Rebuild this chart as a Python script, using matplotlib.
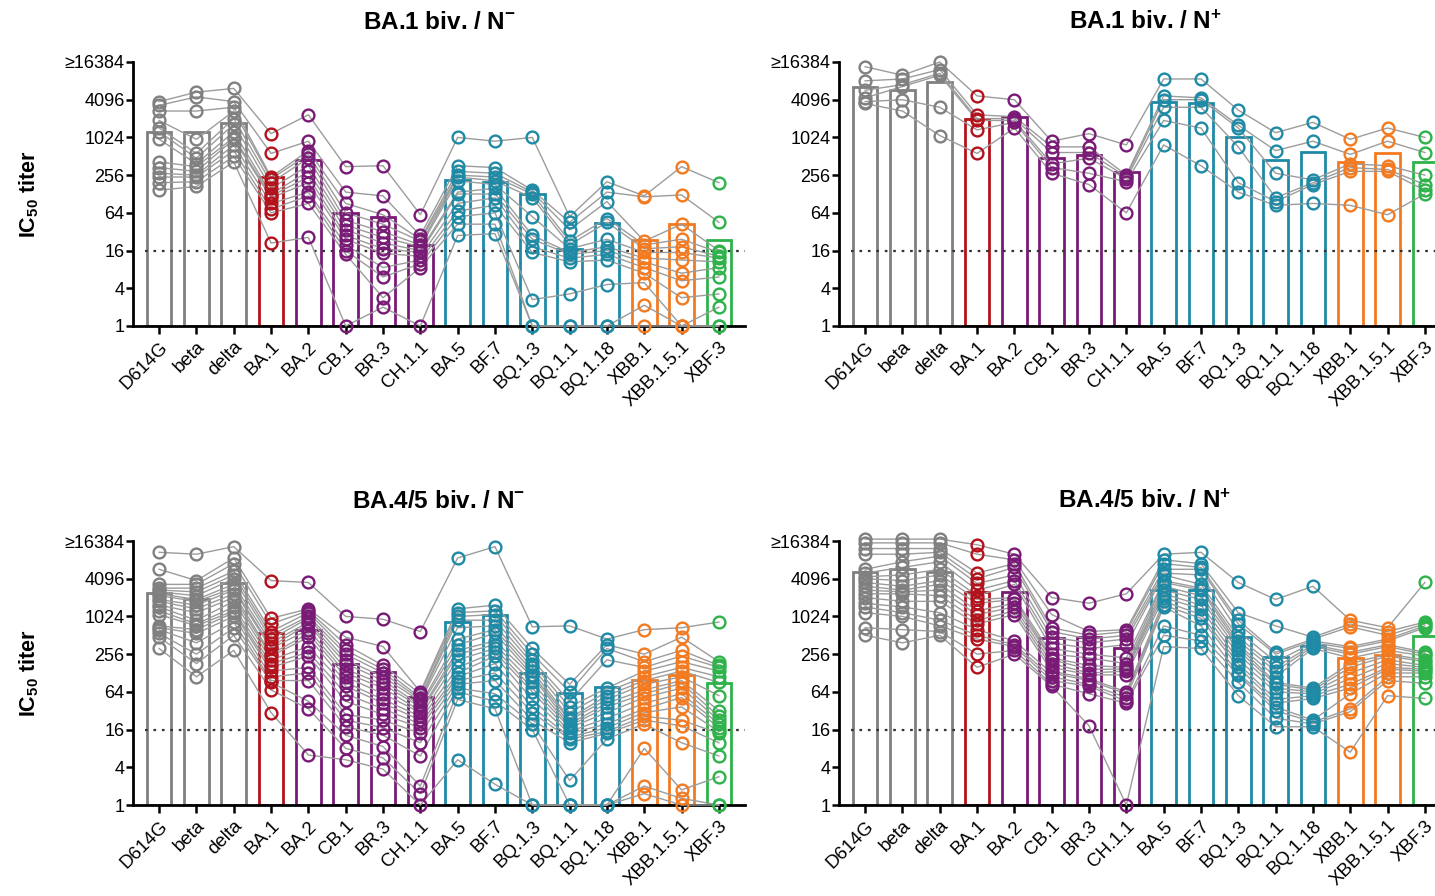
import numpy as np
import matplotlib
matplotlib.use("Agg")
import matplotlib.pyplot as plt

plt.rcParams['font.family'] = ['Liberation Sans', 'DejaVu Sans']
plt.rcParams['mathtext.default'] = 'regular'

variants = ["D614G", "beta", "delta", "BA.1", "BA.2", "CB.1", "BR.3", "CH.1.1",
            "BA.5", "BF.7", "BQ.1.3", "BQ.1.1", "BQ.1.18", "XBB.1", "XBB.1.5.1", "XBF.3"]

GRAY, RED, PURPLE, TEAL, ORANGE, GREEN = "#808080", "#b3121c", "#7a1a77", "#1f8aa6", "#f47a20", "#2db34a"
variant_colors = [GRAY] * 3 + [RED] + [PURPLE] * 4 + [TEAL] * 5 + [ORANGE] * 2 + [GREEN]

# all titers given as log2(IC50), one list per variant, subjects in rank order
# BA.1 biv. / N-
ba1_neg_bars = [10.3, 10.3, 10.78, 7.9, 8.8, 5.97, 5.8, 4.29, 7.74, 7.65, 7.0, 4.1, 5.48, 4.56, 5.4, 4.56]
ba1_neg_points = [
    [11.9, 11.7, 11.4, 10.9, 10.5, 10.3, 9.9, 8.7, 8.4, 8.1, 7.9, 7.6, 7.2],
    [12.4, 12.15, 11.4, 9.9, 9.15, 8.9, 8.6, 8.45, 8.2, 8.0, 7.9, 7.65, 7.4],
    [12.6, 11.9, 11.6, 11.4, 11.0, 10.7, 10.3, 10.0, 9.9, 9.6, 9.3, 9.0, 8.7],
    [10.2, 9.15, 7.9, 7.8, 7.6, 7.3, 7.0, 6.9, 6.8, 6.5, 6.2, 6.0, 4.4],
    [11.2, 9.8, 9.3, 9.1, 8.9, 8.5, 8.2, 7.9, 7.6, 7.1, 6.9, 6.5, 4.7],
    [8.45, 7.1, 6.5, 6.0, 5.6, 5.35, 5.1, 4.8, 4.6, 4.3, 4.0, 3.8, 0],
    [8.5, 6.9, 5.9, 5.4, 5.0, 4.7, 4.4, 4.1, 3.85, 3.1, 2.6, 1.5, 1.0],
    [5.9, 4.8, 4.6, 4.5, 4.3, 4.2, 4.0, 3.9, 3.7, 3.5, 3.3, 3.1, 0],
    [10.0, 8.5, 8.2, 8.0, 7.9, 7.7, 7.1, 7.0, 6.5, 6.1, 5.8, 5.4, 4.8],
    [9.8, 8.4, 8.1, 7.9, 7.7, 7.5, 7.3, 7.0, 6.8, 6.4, 6.0, 5.4, 4.9],
    [10.0, 7.2, 7.1, 7.0, 6.8, 5.8, 4.8, 4.6, 4.2, 3.9, 1.4, 0, 0],
    [5.8, 5.5, 5.1, 4.5, 4.3, 4.1, 3.9, 3.8, 3.6, 3.4, 1.7, 0, 0],
    [7.65, 7.1, 6.6, 5.7, 5.5, 4.6, 4.2, 4.0, 3.8, 3.5, 2.2, 0, 0],
    [6.9, 6.85, 4.5, 4.3, 4.1, 3.9, 3.6, 3.4, 3.1, 2.8, 2.3, 1.1, 0],
    [8.45, 6.95, 5.4, 4.6, 4.2, 3.9, 3.5, 2.8, 2.4, 1.5, 0, 0, 0],
    [7.6, 5.5, 4.0, 3.9, 3.7, 3.6, 3.4, 3.1, 2.6, 1.7, 1.0, 0, 0],
]

# BA.1 biv. / N+
ba1_pos_bars = [12.69, 12.5, 12.95, 11.0, 11.1, 8.89, 9.06, 8.18, 11.89, 11.8, 10.0, 8.8, 9.24, 8.7, 9.15, 8.7]
ba1_pos_points = [
    [13.75, 13.0, 12.5, 12.1, 11.9, 11.8],
    [13.3, 13.1, 12.8, 12.7, 12.0, 11.4],
    [14.0, 13.6, 13.4, 13.3, 11.6, 10.1],
    [12.2, 11.2, 11.0, 10.9, 10.4, 9.15],
    [12.0, 11.1, 11.0, 10.9, 10.8, 10.5],
    [9.8, 9.5, 9.2, 8.6, 8.4, 8.1],
    [10.2, 9.5, 9.2, 8.9, 8.1, 7.5],
    [9.6, 8.0, 7.9, 7.8, 7.65, 6.0],
    [13.1, 12.2, 12.0, 11.6, 10.9, 9.6],
    [13.1, 12.1, 12.0, 11.6, 10.5, 8.5],
    [11.45, 10.65, 10.5, 9.5, 7.6, 7.1],
    [10.25, 9.3, 8.1, 6.8, 6.6, 6.4],
    [10.8, 9.8, 7.75, 7.6, 7.5, 6.5],
    [9.9, 9.1, 8.6, 8.4, 8.2, 6.4],
    [10.5, 9.8, 8.5, 8.3, 8.2, 5.9],
    [10.0, 9.2, 8.0, 7.5, 7.2, 7.0],
]

# BA.4/5 biv. / N-
ba45_neg_bars = [11.22, 10.95, 11.75, 9.1, 9.28, 7.5, 7.07, 5.74, 9.72, 10.1, 6.98, 5.92, 6.27, 6.63, 6.89, 6.48]
ba45_neg_points = [
    [13.4, 12.5, 11.7, 11.5, 11.4, 11.3, 11.2, 11.1, 10.9, 10.8, 10.6, 10.5, 10.3, 10.1, 9.5, 9.4, 9.3, 9.1, 8.9, 8.3],
    [13.3, 11.9, 11.7, 11.5, 11.3, 11.1, 10.9, 10.8, 10.6, 10.4, 10.2, 9.8, 9.6, 9.5, 9.3, 9.1, 8.6, 8.0, 7.5, 6.8],
    [13.7, 13.1, 12.8, 12.4, 12.2, 12.0, 11.7, 11.5, 11.4, 11.2, 11.0, 10.8, 10.5, 10.3, 10.2, 10.0, 9.7, 9.4, 9.0, 8.2],
    [11.9, 9.9, 9.6, 9.2, 9.0, 8.8, 8.6, 8.4, 8.3, 8.0, 7.9, 7.7, 7.5, 7.3, 7.1, 6.8, 6.6, 6.5, 6.1, 4.9],
    [11.8, 10.4, 10.3, 10.2, 10.0, 9.9, 9.7, 9.6, 9.3, 9.1, 8.9, 8.4, 8.1, 7.9, 7.3, 7.0, 6.6, 5.5, 5.1, 2.65],
    [10.0, 8.9, 8.5, 8.2, 8.0, 7.7, 7.5, 7.2, 7.0, 6.8, 6.5, 6.3, 5.9, 5.5, 4.8, 4.5, 4.15, 3.7, 3.0, 2.4],
    [9.85, 8.4, 7.4, 7.2, 7.0, 6.8, 6.6, 6.4, 6.2, 5.9, 5.6, 5.4, 5.1, 4.8, 4.5, 4.1, 3.7, 3.1, 2.5, 1.9],
    [9.2, 6.0, 5.9, 5.7, 5.6, 5.5, 5.3, 5.2, 5.0, 4.9, 4.7, 4.5, 4.3, 4.1, 3.8, 3.3, 2.6, 1.0, 0.6, 0],
    [13.1, 10.4, 10.2, 10.0, 9.8, 9.4, 8.8, 8.5, 8.2, 8.0, 7.7, 7.3, 7.0, 6.8, 6.6, 6.4, 6.2, 6.0, 5.6, 2.4],
    [13.7, 10.6, 10.3, 10.1, 9.8, 9.5, 9.3, 9.1, 8.7, 8.5, 8.3, 8.1, 7.9, 7.5, 7.0, 6.6, 5.9, 5.5, 5.1, 1.1],
    [9.45, 8.3, 8.0, 7.7, 7.5, 7.3, 7.1, 6.9, 6.8, 6.5, 6.2, 6.0, 5.6, 5.2, 4.9, 4.5, 4.3, 4.0, 0, 0],
    [9.5, 6.4, 6.0, 5.5, 5.2, 4.9, 4.6, 4.5, 4.3, 4.2, 4.1, 3.9, 3.8, 3.6, 3.5, 3.3, 1.3, 0, 0, 0],
    [8.8, 8.5, 8.3, 7.7, 6.2, 6.0, 5.8, 5.6, 5.4, 5.2, 4.9, 4.6, 4.3, 4.1, 3.9, 3.8, 3.5, 0, 0, 0],
    [9.3, 8.0, 7.6, 7.3, 7.1, 6.8, 6.6, 6.4, 6.1, 5.9, 5.7, 5.4, 5.1, 4.9, 4.7, 4.5, 4.3, 3.0, 1.0, 0.6],
    [9.4, 8.9, 8.2, 7.9, 7.6, 7.3, 7.1, 6.8, 6.6, 6.45, 6.2, 5.9, 5.7, 5.2, 4.5, 4.2, 3.3, 0.8, 0.35, 0],
    [9.7, 7.6, 7.4, 7.3, 7.1, 6.8, 6.5, 5.8, 5.0, 4.7, 4.5, 4.3, 4.1, 3.9, 3.8, 3.3, 2.6, 1.5, 0, 0],
]

# BA.4/5 biv. / N+
ba45_pos_bars = [12.37, 12.54, 12.37, 11.3, 11.3, 8.83, 8.92, 8.3, 11.4, 11.4, 8.92, 7.86, 8.43, 7.77, 7.95, 8.96]
ba45_pos_points = [
    [14.1, 13.9, 13.6, 13.3, 12.5, 12.3, 12.1, 12.0, 11.8, 11.6, 11.4, 11.2, 11.0, 10.7, 10.5, 10.2, 9.4, 9.0],
    [14.1, 13.9, 13.6, 13.3, 12.9, 12.6, 12.2, 11.9, 11.6, 11.4, 11.3, 11.2, 10.8, 10.5, 10.2, 10.0, 9.3, 8.6],
    [14.1, 13.9, 13.6, 13.4, 13.2, 12.9, 12.5, 12.2, 11.9, 11.7, 11.4, 11.1, 10.8, 10.2, 9.8, 9.5, 9.2, 9.0],
    [13.8, 13.3, 12.3, 12.0, 11.75, 11.4, 11.1, 10.9, 10.7, 10.3, 10.1, 9.8, 9.6, 9.3, 9.0, 8.8, 8.0, 7.3],
    [13.3, 13.0, 12.8, 12.6, 12.2, 11.9, 11.7, 11.0, 10.9, 10.7, 10.5, 10.3, 10.1, 8.7, 8.5, 8.4, 8.2, 8.0],
    [11.0, 10.1, 9.4, 9.2, 8.9, 8.6, 8.3, 8.0, 7.8, 7.7, 7.5, 7.3, 7.1, 7.0, 6.8, 6.6, 6.4, 6.3],
    [10.7, 9.2, 9.0, 8.8, 8.6, 8.3, 8.0, 7.8, 7.4, 7.2, 7.0, 6.9, 6.7, 6.6, 6.4, 6.3, 5.9, 4.2],
    [11.2, 9.3, 9.2, 9.0, 8.8, 8.5, 7.8, 7.5, 7.3, 7.2, 7.1, 6.9, 6.0, 5.9, 5.7, 5.5, 5.4, 0],
    [13.3, 13.0, 12.8, 12.5, 12.3, 12.2, 11.9, 11.8, 11.6, 11.4, 11.2, 11.0, 10.8, 10.6, 10.5, 9.5, 9.0, 8.4],
    [13.4, 12.8, 12.6, 12.5, 12.2, 11.7, 11.5, 11.4, 11.1, 10.9, 10.6, 10.4, 10.1, 9.9, 9.5, 9.0, 8.7, 8.3],
    [11.8, 10.2, 9.8, 9.6, 9.2, 8.9, 8.7, 8.5, 8.4, 8.2, 8.0, 7.7, 7.5, 7.3, 7.0, 6.9, 6.5, 5.8],
    [10.9, 9.5, 8.1, 8.0, 7.6, 7.3, 7.1, 6.8, 6.5, 6.4, 6.2, 6.0, 5.6, 5.4, 5.2, 5.0, 4.6, 4.15],
    [11.6, 8.9, 8.8, 8.7, 8.6, 8.5, 8.4, 8.3, 6.2, 6.1, 6.0, 5.9, 5.8, 5.65, 4.5, 4.4, 4.3, 4.15],
    [9.8, 9.6, 9.45, 8.4, 8.3, 8.1, 8.0, 7.8, 7.5, 7.3, 7.0, 6.7, 6.4, 6.2, 5.9, 5.1, 4.95, 2.8],
    [9.4, 9.2, 9.0, 8.8, 8.7, 8.5, 8.4, 8.2, 8.0, 7.9, 7.7, 7.5, 7.3, 7.2, 7.0, 6.8, 6.6, 5.8],
    [11.8, 9.7, 9.6, 9.5, 9.4, 8.1, 8.0, 7.9, 7.7, 7.6, 7.4, 7.3, 7.2, 7.1, 7.0, 6.8, 6.45, 5.65],
]

y_ticks = [1, 4, 16, 64, 256, 1024, 4096, 16384]
y_ticklabels = ["1", "4", "16", "64", "256", "1024", "4096", "≥16384"]
cutoff = 16

W, H = 1435, 896
fig = plt.figure(figsize=(W / 100, H / 100), dpi=100)

panels = [
    ("BA.1 biv. / N$^{-}$", ba1_neg_bars, ba1_neg_points, (133, 62)),
    ("BA.1 biv. / N$^{+}$", ba1_pos_bars, ba1_pos_points, (839, 62)),
    ("BA.4/5 biv. / N$^{-}$", ba45_neg_bars, ba45_neg_points, (133, 541)),
    ("BA.4/5 biv. / N$^{+}$", ba45_pos_bars, ba45_pos_points, (839, 541)),
]

x = np.arange(len(variants))
for k, (title, bars, points, (left, top)) in enumerate(panels):
    ax = fig.add_axes([left / W, 1 - (top + 264) / H, 612 / W, 264 / H])
    ax.set_yscale("log", base=2)

    # bars = geometric means
    gm = 2.0 ** np.array(bars)
    ax.bar(x, gm - 1, bottom=1, width=0.66, facecolor="white",
           edgecolor=variant_colors, linewidth=2, zorder=2)

    # cut-off line, drawn over the bars
    ax.axhline(cutoff, xmin=0.02, color="#333333", lw=1.6, ls=(0, (1.2, 2.6)), zorder=2.5)

    # subject lines
    pts = 2.0 ** np.array(points)
    for s in range(pts.shape[1]):
        ax.plot(x, pts[:, s], color="#9c9c9c", lw=1, zorder=3, clip_on=False)

    # subject points
    for i in range(len(variants)):
        ax.plot(np.full(pts.shape[1], x[i]), pts[i], "o", ms=8.5, mfc="none",
                mec=variant_colors[i], mew=1.7, zorder=4, clip_on=False)

    ax.set_ylim(1, 16384)
    ax.set_xlim(-0.7, 15.7)
    ax.set_yticks(y_ticks)
    ax.set_yticklabels(y_ticklabels)
    ax.minorticks_off()
    ax.set_xticks(x)
    ax.set_xticklabels(variants, rotation=45, ha="right", rotation_mode="anchor")

    for side in ["top", "right"]:
        ax.spines[side].set_visible(False)
    for side in ["left", "bottom"]:
        ax.spines[side].set_linewidth(2)
    ax.tick_params(axis="y", length=5, width=1.8, labelsize=13, pad=1)
    ax.tick_params(axis="x", length=6, width=1.8, labelsize=13.5, pad=3)

    ax.set_title(title, fontsize=17.5, fontweight="bold", pad=24)
    if k % 2 == 0:
        ax.set_ylabel("IC$_{50}$ titer", fontsize=15.5, fontweight="bold")
        ax.yaxis.set_label_coords(-0.15, 0.5)

fig.savefig("out.png", dpi=100)
